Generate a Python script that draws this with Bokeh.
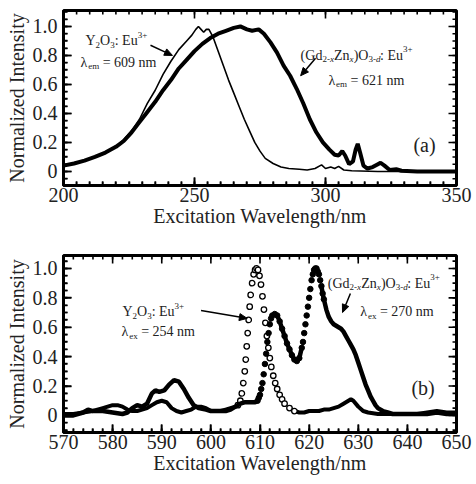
import math
import numpy as np
from bokeh.plotting import figure
from bokeh.models import Range1d, LinearAxis, FixedTicker, CustomJSTickFormatter
from bokeh.layouts import column
from bokeh.embed import file_html
from bokeh.resources import INLINE
from bokeh.core.properties import value

# ---------------- data: panel (a) excitation spectra ----------------
a_y2o3_wl = [200, 204, 208, 212, 216, 220, 223, 226, 229, 232, 235, 238, 241, 244, 247,
             249, 250.5, 251.5, 252.5, 253.5, 254.5, 255.5, 257, 259, 261, 263, 265, 267,
             269, 271, 273, 275, 277, 280, 283, 286, 290, 293, 296, 298.5, 300, 302,
             303.5, 305, 307, 310, 320, 330, 340, 350]
a_y2o3_int = [0.04, 0.055, 0.075, 0.1, 0.13, 0.17, 0.22, 0.28, 0.36, 0.47, 0.56, 0.67, 0.76,
              0.84, 0.9, 0.94, 0.98, 1.0, 0.98, 0.96, 0.98, 0.98, 0.93, 0.83, 0.73, 0.63,
              0.54, 0.45, 0.36, 0.28, 0.2, 0.14, 0.09, 0.055, 0.03, 0.02, 0.015, 0.01,
              0.02, 0.045, 0.02, 0.03, 0.02, 0.035, 0.01, 0.005, 0.0, 0.0, 0.0, 0.0]

a_gd_wl = [200, 204, 208, 212, 216, 220, 223, 226, 229, 232, 235, 238, 241, 244, 247, 250,
           253, 256, 259, 262, 265, 267.5, 270, 272, 274.5, 276.5, 279, 281.5, 284, 286.5,
           289, 291.5, 294, 296.5, 299, 301.5, 303.5, 305, 306.4, 307.5, 309, 310.5, 311.5,
           312.3, 313.2, 314.5, 316, 318, 320, 321, 322.5, 324.5, 327, 329, 335, 340, 350]
a_gd_int = [0.04, 0.055, 0.075, 0.1, 0.13, 0.17, 0.21, 0.27, 0.34, 0.41, 0.48, 0.56, 0.63,
            0.71, 0.77, 0.83, 0.88, 0.92, 0.95, 0.97, 0.99, 1.0, 0.98, 0.97, 0.98, 0.95,
            0.89, 0.82, 0.73, 0.66, 0.57, 0.47, 0.36, 0.27, 0.2, 0.15, 0.115, 0.11, 0.14,
            0.11, 0.05, 0.07, 0.15, 0.19, 0.13, 0.04, 0.02, 0.03, 0.05, 0.06, 0.04, 0.01,
            0.015, 0.005, 0.0, 0.0, 0.0]

# ---------------- data: panel (b) emission spectra ----------------
b_y2o3_wl = [570, 572, 574, 576, 578, 580, 581, 582, 583, 584, 585, 586, 587, 588, 589, 590,
             591, 592, 593, 594, 595, 596, 597, 598, 599, 600, 601, 602, 603, 604, 605,
             605.5, 606, 606.3, 606.6, 606.9, 607.1, 607.3, 607.5, 607.7, 607.9, 608.1,
             608.4, 608.7, 609, 609.3, 609.6, 609.9, 610.2, 610.5, 610.8, 611.1, 611.4,
             611.7, 612, 612.3, 612.7, 613.1, 613.5, 614, 614.5, 615, 616, 617, 618, 619,
             620, 621, 622, 623, 624, 625, 626, 627, 628, 628.5, 629, 630, 631, 632, 634,
             636, 638, 640, 642, 644, 646, 648, 650]
b_y2o3_int = [0.01, 0.01, 0.02, 0.03, 0.05, 0.07, 0.07, 0.06, 0.04, 0.03, 0.03, 0.04, 0.05,
              0.07, 0.09, 0.1, 0.09, 0.05, 0.03, 0.02, 0.03, 0.04, 0.06, 0.06, 0.05, 0.03,
              0.03, 0.03, 0.04, 0.05, 0.06, 0.07, 0.1, 0.15, 0.22, 0.3, 0.38, 0.47, 0.56,
              0.65, 0.74, 0.82, 0.9, 0.96, 0.99, 1.0, 0.99, 0.95, 0.89, 0.81, 0.72, 0.63,
              0.54, 0.46, 0.39, 0.33, 0.27, 0.22, 0.18, 0.14, 0.11, 0.08, 0.05, 0.03, 0.02,
              0.02, 0.03, 0.03, 0.03, 0.04, 0.04, 0.05, 0.06, 0.08, 0.1, 0.11, 0.1, 0.06,
              0.03, 0.02, 0.01, 0.01, 0.01, 0.01, 0.01, 0.02, 0.03, 0.02, 0.02]

b_gd_wl = [570, 572, 574, 575, 576, 578, 580, 582, 583, 584, 585, 586, 587, 588, 588.7,
           589.5, 590.5, 591.5, 592.5, 593.5, 594.5, 595.5, 596.5, 597.5, 599, 600, 601,
           602, 603, 604, 605, 606, 607, 608, 609, 609.5, 609.75, 610, 610.25, 610.5,
           610.75, 611, 611.25, 611.5, 611.75, 612, 612.25, 612.5, 613, 613.5, 614, 614.5,
           615, 615.5, 616, 616.5, 617, 617.5, 618, 618.5, 618.75, 619, 619.25, 619.5,
           619.75, 620, 620.25, 620.5, 620.75, 621, 621.25, 621.5, 621.75, 622, 622.25,
           622.5, 622.75, 623, 623.5, 624, 624.5, 625, 625.5, 626, 626.5, 627, 627.5, 628,
           628.5, 629, 629.5, 630, 630.5, 631, 631.5, 632, 632.5, 633, 633.5, 634, 635,
           636, 637, 638, 640, 642, 644, 646, 648, 650]
b_gd_int = [0.0, 0.0, 0.02, 0.04, 0.03, 0.03, 0.02, 0.01, 0.02, 0.05, 0.07, 0.06, 0.08,
            0.15, 0.17, 0.16, 0.17, 0.21, 0.24, 0.23, 0.18, 0.12, 0.07, 0.05, 0.04, 0.03,
            0.03, 0.03, 0.03, 0.04, 0.06, 0.08, 0.09, 0.09, 0.09, 0.1, 0.12, 0.14, 0.18,
            0.22, 0.28, 0.35, 0.42, 0.5, 0.56, 0.62, 0.66, 0.68, 0.69, 0.68, 0.64, 0.59,
            0.54, 0.49, 0.45, 0.41, 0.38, 0.37, 0.39, 0.46, 0.5, 0.56, 0.62, 0.68, 0.74,
            0.8, 0.86, 0.92, 0.96, 0.99, 1.0, 1.0, 0.98, 0.96, 0.92, 0.88, 0.83, 0.79,
            0.72, 0.67, 0.64, 0.62, 0.61, 0.6, 0.59, 0.57, 0.54, 0.51, 0.48, 0.45, 0.41,
            0.36, 0.31, 0.26, 0.21, 0.17, 0.13, 0.1, 0.07, 0.05, 0.03, 0.02, 0.01, 0.01,
            0.01, 0.01, 0.01, 0.02, 0.01, 0.01]

y_tick_values = [0, 0.2, 0.4, 0.6, 0.8, 1.0]
a_x_ticks = [200, 250, 300, 350]
b_x_ticks = [570, 580, 590, 600, 610, 620, 630, 640, 650]

FONT = "Liberation Serif"
TXT = "#222222"
WIDTH = 476
BORDER_LEFT = 63

# approximate Times / Liberation Serif advance widths (em)
W = {' ': 0.25, '(': 0.333, ')': 0.333, '+': 0.564, '-': 0.333, ':': 0.278, '=': 0.564,
     'E': 0.611, 'G': 0.722, 'O': 0.722, 'Y': 0.722, 'Z': 0.611, 'd': 0.5, 'e': 0.444,
     'm': 0.778, 'n': 0.5, 'u': 0.5, 'x': 0.5, 'λ': 0.55}


def twidth(s, size):
    return sum(W.get(c, 0.5) for c in s) * size


def rich(p, x, y, parts, size=14, small=9):
    off = 0.0
    for txt, kind in parts:
        fs = size if kind == 'n' else small
        lead = len(txt) - len(txt.lstrip(' '))
        if lead:
            off += lead * W[' '] * fs
            txt = txt.lstrip(' ')
        dy = 4 if kind.startswith('sub') else (-6 if kind.startswith('sup') else 0)
        style = 'italic' if kind.endswith('i') else 'normal'
        p.text(x=[x], y=[y], text=[txt], x_offset=off, y_offset=dy,
               text_font=value(FONT), text_font_size=f"{fs}px", text_font_style=style,
               text_baseline='alphabetic', text_align='left', text_color=TXT)
        w = twidth(txt, fs)
        if style == 'italic':
            w *= 0.92
        off += w


class Panel:
    def __init__(self, h, xr, yr, xticks, xminor, bt, bb, br):
        self.xr, self.yr, self.xticks = xr, yr, xticks
        fw = WIDTH - BORDER_LEFT - br
        fh = h - bt - bb
        self.dxp = (xr[1] - xr[0]) / fw   # data units per pixel
        self.dyp = (yr[1] - yr[0]) / fh
        p = figure(width=WIDTH, height=h, x_range=Range1d(*xr), y_range=Range1d(*yr),
                   output_backend="svg", toolbar_location=None, x_axis_type=None,
                   y_axis_type=None, min_border_left=BORDER_LEFT, min_border_right=br,
                   min_border_top=bt, min_border_bottom=bb)
        p.outline_line_color = "black"
        p.outline_line_width = 3
        self.yminor = [round(float(v), 2) for v in np.arange(-0.1, 1.101, 0.05)
                       if yr[0] < v < yr[1]]
        self.xminor = [float(v) for v in xminor]
        xt = FixedTicker(ticks=xticks, minor_ticks=self.xminor)
        yt = FixedTicker(ticks=y_tick_values, minor_ticks=self.yminor)

        def style(ax):
            ax.axis_line_width = 3
            ax.axis_line_color = "black"
            ax.major_tick_in = 8
            ax.major_tick_out = 0
            ax.minor_tick_in = 4
            ax.minor_tick_out = 0
            ax.major_tick_line_width = 1.6
            ax.minor_tick_line_width = 1.6
            ax.major_label_text_font = FONT
            ax.major_label_text_font_size = "20px"
            ax.major_label_text_color = TXT
            ax.axis_label_text_font = FONT
            ax.axis_label_text_font_size = "20px"
            ax.axis_label_text_font_style = "normal"
            ax.axis_label_text_color = TXT

        bx = LinearAxis(ticker=xt, axis_label="Excitation Wavelength/nm")
        style(bx)
        bx.major_label_standoff = 2
        bx.axis_label_standoff = 0
        ly = LinearAxis(ticker=yt, axis_label="Normalized Intensity",
                        formatter=CustomJSTickFormatter(
                            code="return tick == 0 ? '0' : tick.toFixed(1);"))
        style(ly)
        ly.major_label_standoff = 6
        ly.axis_label_standoff = 2
        p.add_layout(bx, "below")
        p.add_layout(ly, "left")
        self.p = p

    def ticks(self):
        # inward tick marks on all four sides, drawn as dash markers centred
        # half a tick length inside the frame edge
        xr, yr, dxp, dyp = self.xr, self.yr, self.dxp, self.dyp
        for tl, ln in ((self.xticks, 8), (self.xminor, 4)):
            xs = [float(v) for v in tl]
            for yy in (yr[0] + 0.5 * ln * dyp, yr[1] - 0.5 * ln * dyp):
                self.p.scatter(x=xs, y=[yy] * len(xs), marker="dash", size=ln,
                               angle=math.pi / 2, line_color="black", line_width=1.6)
        for tl, ln in ((y_tick_values, 8), (self.yminor, 4)):
            ys = [float(v) for v in tl]
            for xx in (xr[0] + 0.5 * ln * dxp, xr[1] - 0.5 * ln * dxp):
                self.p.scatter(x=[xx] * len(ys), y=ys, marker="dash", size=ln,
                               angle=0.0, line_color="black", line_width=1.6)

    def arrow(self, x0, y0, x1, y1, L=8.0, hw=3.5):
        dxp, dyp = self.dxp, self.dyp
        vx, vy = (x1 - x0) / dxp, (y1 - y0) / dyp
        n = math.hypot(vx, vy)
        ux, uy = vx / n, vy / n
        bx, by = x1 - L * ux * dxp, y1 - L * uy * dyp
        px, py = -uy, ux
        self.p.line([x0, bx], [y0, by], line_color="black", line_width=1.5)
        self.p.patch([x1, bx + hw * px * dxp, bx - hw * px * dxp],
                     [y1, by + hw * py * dyp, by - hw * py * dyp],
                     fill_color="black", line_color="black", line_width=1)


Y_PARTS = [("Y", 'n'), ("2", 'sub'), ("O", 'n'), ("3", 'sub'), (": Eu", 'n'), ("3+", 'sup')]
GD_PARTS = [("(Gd", 'n'), ("2-", 'sub'), ("x", 'subi'), ("Zn", 'n'), ("x", 'subi'),
            (")O", 'n'), ("3-", 'sub'), ("d", 'subi'), (": Eu", 'n'), ("3+", 'sup')]

# ---------------- panel (a) ----------------
A = Panel(240, (200, 350), (-0.097, 1.11), a_x_ticks, np.arange(200, 351, 5), 10, 55, 20)
pa = A.p
pa.line(a_y2o3_wl, a_y2o3_int, line_color="black", line_width=1.6)
pa.line(a_gd_wl, a_gd_int, line_color="black", line_width=4)

rich(pa, 208.4, 0.903, Y_PARTS)
rich(pa, 206.5, 0.752, [("λ", 'n'), ("em", 'sub'), (" = 609 nm", 'n')])
rich(pa, 290.5, 0.80, GD_PARTS)
rich(pa, 301.1, 0.628, [("λ", 'n'), ("em", 'sub'), (" = 621 nm", 'n')])
pa.text(x=[337.8], y=[0.18], text=["(a)"], text_font=value(FONT), text_font_size="20px",
        text_align="center", text_baseline="middle", text_color=TXT)
A.arrow(233.2, 0.87, 241.6, 0.80)
A.arrow(296.2, 0.78, 290.5, 0.66)
A.ticks()

# ---------------- panel (b) ----------------
B = Panel(244, (570, 650), (-0.116, 1.088), b_x_ticks, np.arange(570, 651, 2), 15, 52, 13)
pb = B.p
yx = np.array(b_y2o3_wl)
yv = np.array(b_y2o3_int)
for m in (yx <= 606, yx >= 616):
    pb.line(yx[m], yv[m], line_color="black", line_width=4)
peak = (yx >= 605.5) & (yx <= 617)
pb.scatter(yx[peak], yv[peak], marker="circle", size=5.5, fill_color="white",
           line_color="black", line_width=1.3)

gx = np.array(b_gd_wl)
gv = np.array(b_gd_int)
for m in (gx <= 610, (gx >= 612.5) & (gx <= 618.5), gx >= 622.5):
    pb.line(gx[m], gv[m], line_color="black", line_width=4.5)
dots = (gx >= 609.5) & (gx <= 623)
pb.scatter(gx[dots], gv[dots], marker="circle", size=5.5, fill_color="black",
           line_color="black")

rich(pb, 582.0, 0.707, Y_PARTS)
rich(pb, 581.8, 0.571, [("λ", 'n'), ("ex", 'sub'), (" = 254 nm", 'n')])
rich(pb, 623.8, 0.898, GD_PARTS)
rich(pb, 630.4, 0.707, [("λ", 'n'), ("ex", 'sub'), (" = 270 nm", 'n')])
pb.text(x=[643.2], y=[0.19], text=["(b)"], text_font=value(FONT), text_font_size="20px",
        text_align="center", text_baseline="middle", text_color=TXT)
B.arrow(598.0, 0.714, 607.4, 0.66)
B.arrow(628.4, 0.83, 626.8, 0.70)
B.ticks()

layout = column(pa, pb, spacing=0)
open("out.html", "w").write(file_html(layout, INLINE))
